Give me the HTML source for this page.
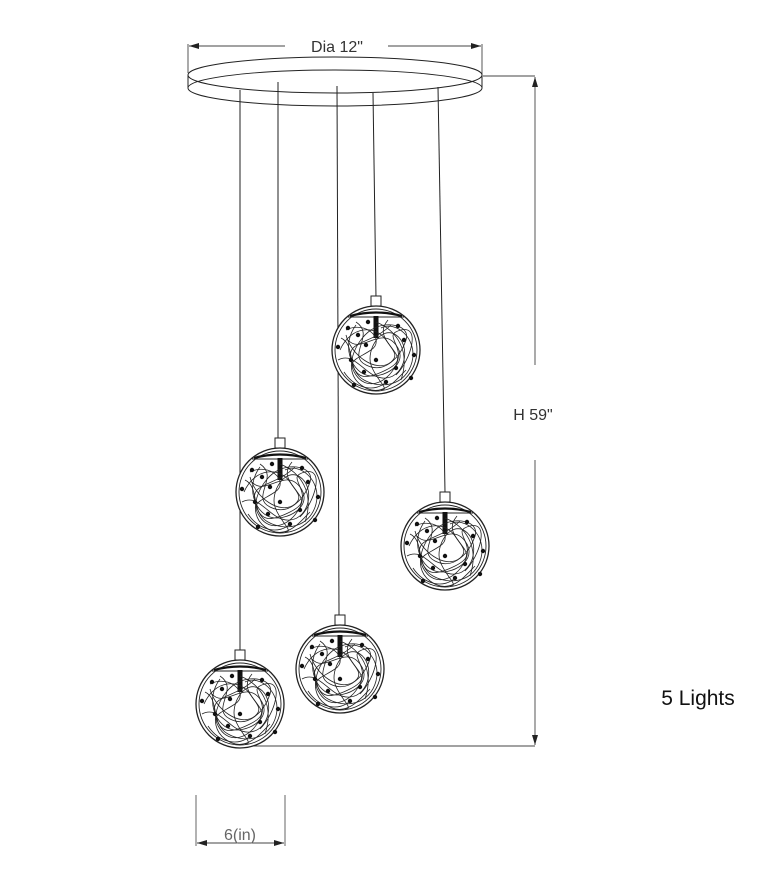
<!DOCTYPE html>
<html><head><meta charset="utf-8"><style>
html,body{margin:0;padding:0;background:#fff;}
svg{display:block;}
text{font-family:"Liberation Sans","DejaVu Sans",sans-serif;}
</style></head><body>
<svg width="780" height="880" viewBox="0 0 780 880" xmlns="http://www.w3.org/2000/svg">
<defs>
<g id="globe">
  <rect x="-5" y="-54" width="10" height="10" fill="#fff" stroke="#222" stroke-width="1"/>
  <circle r="44" fill="#fff" stroke="#222" stroke-width="1.3"/>
  <circle r="41" fill="none" stroke="#222" stroke-width="0.9"/>
  <path d="M-26,-34 Q0,-41 26,-34" fill="none" stroke="#111" stroke-width="2.2"/>
  <line x1="-28" y1="-33" x2="28" y2="-33" stroke="#222" stroke-width="1"/>
  <rect x="-2.5" y="-34" width="5" height="22" fill="#111"/>
  <g fill="none" stroke="#222" stroke-width="0.8">
    <path d="M-30,-20 C-10,-30 10,-10 -5,0 S-30,10 -20,25 S10,35 20,15 S5,-15 25,-20 S35,10 20,25"/>
    <path d="M-36,0 C-25,-25 0,-25 10,-10 S30,10 10,20 S-20,30 -25,10 S-5,-5 15,-25"/>
    <path d="M-20,-28 C0,-15 -30,5 -10,15 S25,5 30,-10 S10,-30 -5,-20 S-35,20 -15,35 S20,30 30,20"/>
    <path d="M-38,10 C-20,0 -10,30 10,28 S35,-5 20,-15 S-10,0 -5,15 S15,40 5,40"/>
    <path d="M-28,-10 C-15,5 5,-25 20,-5 S5,30 -10,25 S-35,-5 -20,-25"/>
    <path d="M0,-28 C20,-20 35,0 25,30 M-32,22 C-20,40 0,42 10,32"/>
    <path d="M-35,-12 C-20,-5 -30,20 -12,30 S30,35 36,12 S20,-30 5,-22"/>
    <path d="M12,-30 C-5,-10 30,0 15,12 S-25,5 -30,-15"/>
  </g>
  <g fill="#111">
    <circle cx="-28" cy="-22" r="2.2"/><circle cx="-18" cy="-15" r="2.2"/><circle cx="22" cy="-24" r="2.2"/>
    <circle cx="-38" cy="-3" r="2.2"/><circle cx="-10" cy="-5" r="2.2"/><circle cx="28" cy="-10" r="2.2"/>
    <circle cx="-25" cy="10" r="2.2"/><circle cx="0" cy="10" r="2.2"/><circle cx="38" cy="5" r="2.2"/>
    <circle cx="-12" cy="22" r="2.2"/><circle cx="20" cy="18" r="2.2"/><circle cx="35" cy="28" r="2.2"/>
    <circle cx="-22" cy="35" r="2.2"/><circle cx="10" cy="32" r="2.2"/><circle cx="-8" cy="-28" r="2.2"/>
  </g>
</g>
<marker id="ar" markerWidth="10" markerHeight="6" refX="10" refY="3" orient="auto" markerUnits="userSpaceOnUse"><path d="M0,0 L10,3 L0,6 Z" fill="#222"/></marker>
</defs>

<line x1="188" y1="44" x2="188" y2="73" stroke="#444" stroke-width="0.9"/>
<line x1="482" y1="44" x2="482" y2="76" stroke="#444" stroke-width="0.9"/>
<line x1="285" y1="46" x2="189" y2="46" stroke="#444" stroke-width="0.9" marker-end="url(#ar)"/>
<line x1="388" y1="46" x2="481" y2="46" stroke="#444" stroke-width="0.9" marker-end="url(#ar)"/>
<text x="337" y="52" font-size="16" text-anchor="middle" fill="#333">Dia 12"</text>

<path d="M188,75 L188,88 A147,18 0 0 0 482,88 L482,75" fill="#fff" stroke="#222" stroke-width="1"/>
<ellipse cx="335" cy="75" rx="147" ry="18" fill="#fff" stroke="#222" stroke-width="1"/>
<path d="M188,88 A147,18 0 0 1 482,88" fill="none" stroke="#222" stroke-width="0.9"/>

<g stroke="#222" stroke-width="1">
<line x1="240" y1="90" x2="240" y2="650"/>
<line x1="278" y1="82" x2="278" y2="438"/>
<line x1="337" y1="86" x2="339" y2="615"/>
<line x1="373" y1="93" x2="376" y2="298"/>
<line x1="438" y1="87" x2="445" y2="492"/>
</g>

<line x1="483" y1="76" x2="535" y2="76" stroke="#444" stroke-width="0.9"/>
<line x1="535" y1="365" x2="535" y2="77" stroke="#444" stroke-width="0.9" marker-end="url(#ar)"/>
<line x1="535" y1="460" x2="535" y2="745" stroke="#444" stroke-width="0.9" marker-end="url(#ar)"/>
<line x1="240" y1="746" x2="535" y2="746" stroke="#444" stroke-width="0.9"/>
<text x="533" y="420" font-size="16" text-anchor="middle" fill="#333">H 59"</text>

<use href="#globe" x="376" y="350"/>
<use href="#globe" x="280" y="492"/>
<use href="#globe" x="445" y="546"/>
<use href="#globe" x="340" y="669"/>
<use href="#globe" x="240" y="704"/>

<line x1="196" y1="795" x2="196" y2="846" stroke="#555" stroke-width="0.9"/>
<line x1="285" y1="795" x2="285" y2="846" stroke="#555" stroke-width="0.9"/>
<line x1="240" y1="843" x2="197" y2="843" stroke="#444" stroke-width="0.9" marker-end="url(#ar)"/>
<line x1="240" y1="843" x2="284" y2="843" stroke="#444" stroke-width="0.9" marker-end="url(#ar)"/>
<text x="240" y="840" font-size="16" text-anchor="middle" fill="#666">6(in)</text>

<text x="698" y="705" font-size="21" text-anchor="middle" fill="#111">5 Lights</text>
</svg>
</body></html>
